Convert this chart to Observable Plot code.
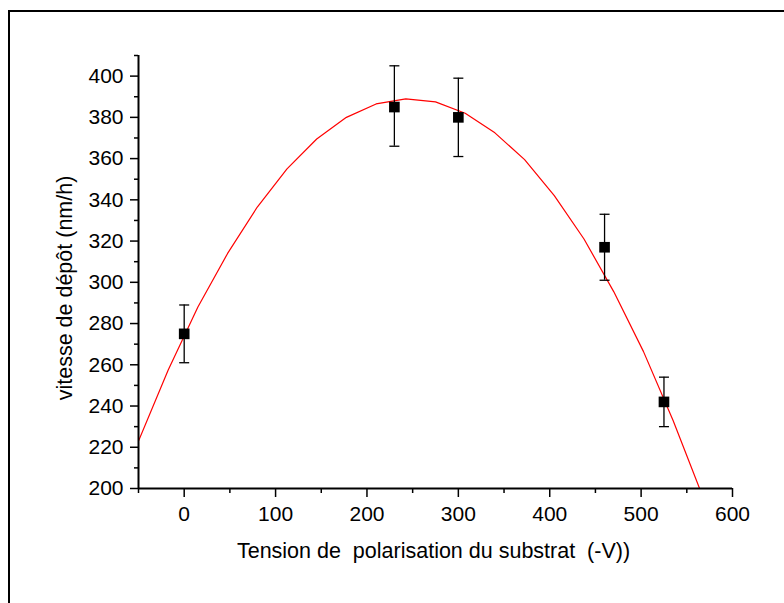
<!DOCTYPE html>
<html><head><meta charset="utf-8">
<script src="https://cdn.jsdelivr.net/npm/d3@7"></script>
<script src="https://cdn.jsdelivr.net/npm/@observablehq/plot@0.6"></script>
<style>
body{margin:0;background:#fff;}
#wrap{position:relative;width:784px;height:603px;overflow:hidden;background:#fff;}
#frame{position:absolute;left:8px;top:10px;width:800px;height:620px;border-left:2px solid #000;border-top:2px solid #000;pointer-events:none;}
svg text{white-space:pre;}
</style></head><body><div id="wrap"><div id="frame"></div></div>
<script>
// Measured points (tension, deposition rate) with error bars
const tension = [0, 230, 300, 460, 525];
const vitesse = [275, 385, 380, 317, 242];
const erreurBas = [261, 366, 361, 301, 230];
const erreurHaut = [289, 405, 399, 333, 254];
// Red fit curve
const fitX = [-50, -17.5, 15, 47.5, 80, 112.5, 145, 177.5, 210, 242.5, 275, 307.5, 340, 372.5, 405, 437.5, 470, 502.5, 535, 567.5];
const fitY = [223, 257.5, 288, 314, 336.5, 355, 369.5, 380, 386.5, 389, 387.5, 382, 372.5, 359.5, 342, 321, 295.5, 266.5, 233, 196];
// Ticks
const xTicks = [0, 100, 200, 300, 400, 500, 600];
const xMinor = [-50, 50, 150, 250, 350, 450, 550];
const yTicks = [200, 220, 240, 260, 280, 300, 320, 340, 360, 380, 400];
const yMinor = [210, 230, 250, 270, 290, 310, 330, 350, 370, 390, 410];
const xLabel = "Tension de  polarisation du substrat  (-V))";
const yLabel = "vitesse de dépôt (nm/h)";

const points = tension.map((x, i) => ({x, y: vitesse[i], lo: erreurBas[i], hi: erreurHaut[i]}));
const fit = fitX.map((x, i) => ({x, y: fitY[i]}));
const cap = {draw(ctx) { ctx.moveTo(-5, 0); ctx.lineTo(5, 0); }};
const font = "'Liberation Sans', Arial, Helvetica, sans-serif";

const chart = Plot.plot({
  width: 784, height: 603,
  marginLeft: 138, marginRight: 52, marginTop: 55, marginBottom: 115,
  style: {fontFamily: font, fontSize: "21px", color: "#000", background: "transparent", overflow: "visible"},
  x: {domain: [-50, 600]},
  y: {domain: [200, 410]},
  marks: [
    Plot.line(fit, {x: "x", y: "y", stroke: "#ff0000", strokeWidth: 1.2, clip: true}),
    Plot.ruleX(points, {x: "x", y1: "lo", y2: "hi", stroke: "#000", strokeWidth: 1.3}),
    Plot.dot(points, {x: "x", y: "lo", symbol: cap, stroke: "#000", strokeWidth: 1.3}),
    Plot.dot(points, {x: "x", y: "hi", symbol: cap, stroke: "#000", strokeWidth: 1.3}),
    Plot.dot(points, {x: "x", y: "y", symbol: "square", r: 6, fill: "#000", stroke: null}),
    Plot.ruleY([200], {stroke: "#000", strokeWidth: 2}),
    Plot.ruleX([-50], {stroke: "#000", strokeWidth: 2}),
    Plot.axisX(xTicks, {tickSize: 9, tickPadding: 9, strokeWidth: 1.5, tickFormat: d => String(d), label: null, fontSize: 21}),
    Plot.axisX(xMinor, {tickSize: 5, strokeWidth: 1.5, tickFormat: () => "", label: null}),
    Plot.axisY(yTicks, {tickSize: 8, tickPadding: 7, strokeWidth: 1.5, tickFormat: d => String(d), label: null, fontSize: 21}),
    Plot.axisY(yMinor, {tickSize: 4, strokeWidth: 1.5, tickFormat: () => "", label: null}),
    Plot.text([xLabel], {frameAnchor: "bottom", textAnchor: "middle", lineAnchor: "middle", dx: -2, dy: 63, fontSize: 21.5, fill: "#000"}),
    Plot.text([yLabel], {frameAnchor: "left", textAnchor: "middle", lineAnchor: "middle", dx: -73, dy: 16, rotate: -90, fontSize: 21.5, fill: "#000"})
  ]
});
document.getElementById("wrap").insertBefore(chart, document.getElementById("frame"));
</script>
</body></html>
